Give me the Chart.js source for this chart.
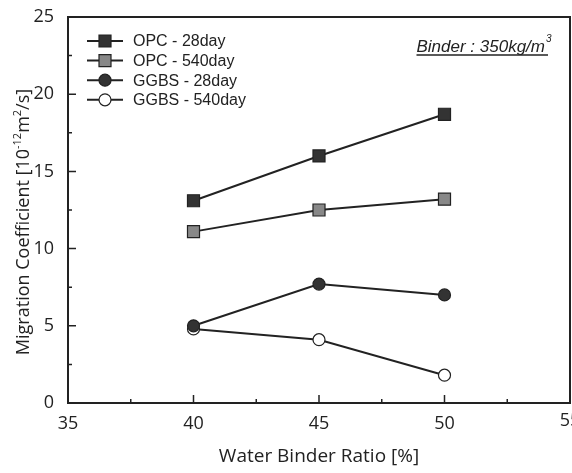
<!DOCTYPE html>
<html>
<head>
<meta charset="utf-8">
<script src="https://cdn.jsdelivr.net/npm/chart.js@4/dist/chart.umd.min.js"></script>
<style>
    html, body { margin: 0; padding: 0; background: #fff; }
    #wrap { width: 572px; height: 473px; }
</style>
</head>
<body>
<div id="wrap"><canvas id="migrationChart" width="572" height="473"></canvas></div>
<script>
const waterBinderRatio = [40, 45, 50];
const opc28day = [13.1, 16.0, 18.7];
const opc540day = [11.1, 12.5, 13.2];
const ggbs28day = [5.0, 7.7, 7.0];
const ggbs540day = [4.8, 4.1, 1.8];
const seriesLabels = ["OPC - 28day", "OPC - 540day", "GGBS - 28day", "GGBS - 540day"];
const xTicks = [35, 40, 45, 50, 55];
const yTicks = [0, 5, 10, 15, 20, 25];

const inkColor = "#222";
const tickFont = "'Open Sans', 'DejaVu Sans', sans-serif";
const legendFont = "'Liberation Sans', Arial, sans-serif";

function toPoints(values) {
    return values.map((v, i) => ({ x: waterBinderRatio[i], y: v }));
}

function makeDataSet(label, values, fill, style, radius) {
    return {
        label: label,
        data: toPoints(values),
        borderColor: inkColor,
        borderWidth: 2,
        pointStyle: style,
        pointRadius: radius,
        pointHoverRadius: radius,
        pointBackgroundColor: fill,
        pointBorderColor: inkColor,
        pointBorderWidth: 1.2,
        fill: false,
        tension: 0
    };
}

// draws a run of [text, isSuperscript] pieces from x
function drawRichText(ctx, pieces, x, y, size) {
    pieces.forEach(p => {
        const s = p[1] ? Math.round(size * 0.62) : size;
        ctx.font = s + "px " + tickFont;
        ctx.fillText(p[0], x, p[1] ? y - size * 0.42 : y);
        x += ctx.measureText(p[0]).width;
    });
    return x;
}

function richWidth(ctx, pieces, size) {
    let w = 0;
    pieces.forEach(p => {
        const s = p[1] ? Math.round(size * 0.62) : size;
        ctx.font = s + "px " + tickFont;
        w += ctx.measureText(p[0]).width;
    });
    return w;
}

const yTitlePieces = [["Migration Coefficient [10", false], ["-12", true], ["m", false], ["2", true], ["/s]", false]];

// frame + inward ticks + legend + note + y title
const framePlugin = {
    id: "framePlugin",
    afterDatasetsDraw(chart) {
        const ctx = chart.ctx;
        const area = chart.chartArea;
        const xs = chart.scales.x;
        const ys = chart.scales.y;
        ctx.save();
        ctx.strokeStyle = inkColor;
        ctx.lineWidth = 2;
        ctx.strokeRect(area.left, area.top, area.right - area.left, area.bottom - area.top);

        ctx.lineWidth = 1.5;
        ctx.beginPath();
        for (let i = 0; i < xTicks.length; i++) {
            const px = xs.getPixelForValue(xTicks[i]);
            ctx.moveTo(px, area.bottom);
            ctx.lineTo(px, area.bottom - 8);
            if (i < xTicks.length - 1) {
                const mx = xs.getPixelForValue((xTicks[i] + xTicks[i + 1]) / 2);
                ctx.moveTo(mx, area.bottom);
                ctx.lineTo(mx, area.bottom - 4);
            }
        }
        for (let i = 0; i < yTicks.length; i++) {
            const py = ys.getPixelForValue(yTicks[i]);
            ctx.moveTo(area.left, py);
            ctx.lineTo(area.left + 8, py);
            if (i < yTicks.length - 1) {
                const my = ys.getPixelForValue((yTicks[i] + yTicks[i + 1]) / 2);
                ctx.moveTo(area.left, my);
                ctx.lineTo(area.left + 4, my);
            }
        }
        ctx.stroke();

        // last x tick label sits on the canvas edge, drawn here so it gets clipped like the original
        ctx.fillStyle = inkColor;
        ctx.font = "18px " + tickFont;
        ctx.textAlign = "center";
        ctx.textBaseline = "middle";
        const lastTick = xTicks[xTicks.length - 1];
        ctx.fillText(String(lastTick), xs.getPixelForValue(lastTick), area.bottom + 18);
        ctx.textAlign = "left";

        // legend
        ctx.font = "16px " + legendFont;
        ctx.textBaseline = "middle";
        chart.data.datasets.forEach((ds, i) => {
            const y = area.top + 24 + i * 19.6;
            const x0 = area.left + 19;
            const x1 = area.left + 55;
            const cx = (x0 + x1) / 2;
            ctx.strokeStyle = inkColor;
            ctx.lineWidth = 2;
            ctx.beginPath();
            ctx.moveTo(x0, y);
            ctx.lineTo(x1, y);
            ctx.stroke();
            ctx.fillStyle = ds.pointBackgroundColor;
            ctx.lineWidth = 1.2;
            ctx.beginPath();
            if (ds.pointStyle === "rect") {
                ctx.rect(cx - 6, y - 6, 12, 12);
            } else {
                ctx.arc(cx, y, 6, 0, Math.PI * 2);
            }
            ctx.fill();
            ctx.stroke();
            ctx.fillStyle = inkColor;
            ctx.fillText(ds.label, area.left + 65, y + 1);
        });

        // binder note
        ctx.font = "italic 17px " + legendFont;
        ctx.textBaseline = "alphabetic";
        const note = "Binder : 350kg/m";
        const noteRight = area.right - 25;
        const noteW = ctx.measureText(note).width;
        const noteX = noteRight - noteW;
        const noteY = area.top + 35;
        ctx.fillText(note, noteX, noteY);
        ctx.font = "italic 10px " + legendFont;
        ctx.fillText("3", noteRight + 1, noteY - 10);
        ctx.lineWidth = 1.5;
        ctx.beginPath();
        ctx.moveTo(noteX, noteY + 3);
        ctx.lineTo(noteRight + 3, noteY + 3);
        ctx.stroke();

        // y axis title with superscripts
        const titleSize = 18;
        const tw = richWidth(ctx, yTitlePieces, titleSize);
        ctx.translate(29, 222);
        ctx.rotate(-Math.PI / 2);
        ctx.textBaseline = "alphabetic";
        drawRichText(ctx, yTitlePieces, -tw / 2, 0, titleSize);
        ctx.restore();
    }
};

const chartData = {
    datasets: [
        makeDataSet(seriesLabels[0], opc28day, "#333", "rect", 8.5),
        makeDataSet(seriesLabels[1], opc540day, "#888", "rect", 8.5),
        makeDataSet(seriesLabels[2], ggbs28day, "#333", "circle", 6),
        makeDataSet(seriesLabels[3], ggbs540day, "#fff", "circle", 6)
    ]
};

const chartOptions = {
    responsive: false,
    animation: false,
    layout: { autoPadding: false, padding: { top: 17, right: 2, left: 0, bottom: 0 } },
    plugins: {
        legend: { display: false },
        tooltip: { enabled: false }
    },
    scales: {
        x: {
            type: "linear",
            min: 35,
            max: 55,
            afterBuildTicks(scale) {
                scale.ticks = xTicks.map(v => ({ value: v }));
            },
            afterFit(scale) {
                scale.height = 70;
                scale.paddingLeft = 0;
                scale.paddingRight = 0;
            },
            grid: { display: false },
            border: { display: false },
            ticks: {
                color: inkColor,
                padding: 2,
                maxRotation: 0,
                autoSkip: false,
                font: { family: tickFont, size: 18 },
                callback: v => (v === xTicks[xTicks.length - 1] ? "" : String(v))
            },
            title: {
                display: true,
                text: "Water Binder Ratio [%]",
                color: inkColor,
                padding: { top: 0, bottom: 5 },
                font: { family: tickFont, size: 19 }
            }
        },
        y: {
            min: 0,
            max: 25,
            afterBuildTicks(scale) {
                scale.ticks = yTicks.map(v => ({ value: v }));
            },
            afterFit(scale) {
                scale.width = 68;
                scale.paddingTop = 0;
                scale.paddingBottom = 0;
            },
            grid: { display: false },
            border: { display: false },
            ticks: {
                color: inkColor,
                padding: 6,
                autoSkip: false,
                font: { family: tickFont, size: 18 }
            },
            title: { display: false }
        }
    }
};

const ctx = document.getElementById("migrationChart").getContext("2d");
const chartObject = new Chart(ctx, {
    type: "line",
    data: chartData,
    options: chartOptions,
    plugins: [framePlugin]
});
</script>
</body>
</html>
